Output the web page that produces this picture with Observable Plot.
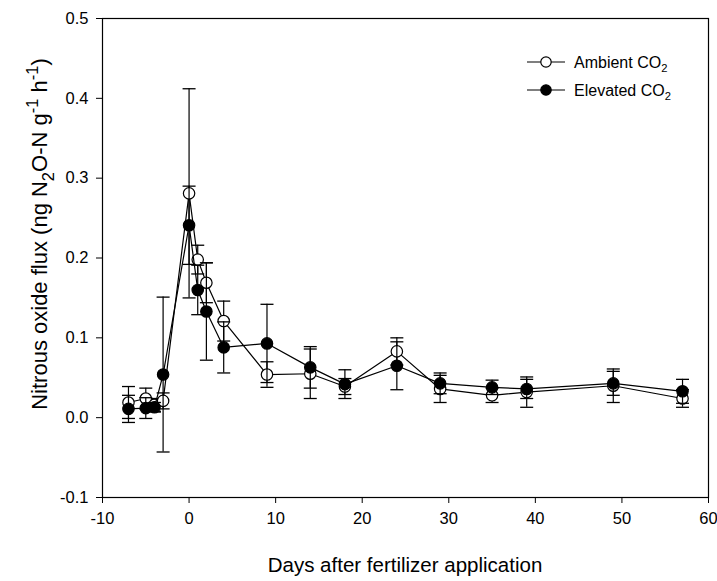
<!DOCTYPE html>
<html>
<head>
<meta charset="utf-8">
<script src="https://cdn.jsdelivr.net/npm/d3@7"></script>
<script src="https://cdn.jsdelivr.net/npm/@observablehq/plot@0.6"></script>
<style>
  html, body { margin: 0; padding: 0; background: #fff; }
  svg { display: block; }
</style>
</head>
<body>
<div id="chart"></div>
<script>
// ---- data ----
const days = [-7, -5, -4, -3, 0, 1, 2, 4, 9, 14, 18, 24, 29, 35, 39, 49, 57];
const ambientMean = [0.019, 0.024, 0.016, 0.021, 0.281, 0.198, 0.169, 0.121, 0.054, 0.055, 0.039, 0.083, 0.036, 0.028, 0.032, 0.040, 0.024];
const ambientErr  = [0.020, 0.013, 0.008, 0.010, 0.131, 0.018, 0.025, 0.025, 0.016, 0.031, 0.010, 0.017, 0.017, 0.009, 0.019, 0.021, 0.011];
const elevatedMean = [0.011, 0.012, 0.013, 0.054, 0.241, 0.160, 0.133, 0.088, 0.093, 0.063, 0.042, 0.065, 0.043, 0.038, 0.036, 0.043, 0.033];
const elevatedErr  = [0.017, 0.013, 0.006, 0.097, 0.049, 0.031, 0.061, 0.032, 0.049, 0.026, 0.018, 0.030, 0.013, 0.009, 0.012, 0.015, 0.015];
const seriesNames = ["Ambient CO", "Elevated CO"];
const xTicks = [-10, 0, 10, 20, 30, 40, 50, 60];
const yTicks = [-0.1, 0.0, 0.1, 0.2, 0.3, 0.4, 0.5];
const xTitle = "Days after fertilizer application";

// ---- build table ----
const seriesData = [
  {name: seriesNames[0], mean: ambientMean, err: ambientErr, fill: "white"},
  {name: seriesNames[1], mean: elevatedMean, err: elevatedErr, fill: "black"}
];

const capSymbol = {
  draw(ctx) { const w = 6.5; ctx.moveTo(-w, 0); ctx.lineTo(w, 0); }
};

const font = "'Liberation Sans', Arial, Helvetica, sans-serif";

const marks = [Plot.frame({stroke: "black", strokeWidth: 1.2})];
for (const s of seriesData) {
  const rows = days.map((d, i) => ({day: d, v: s.mean[i], lo: s.mean[i] - s.err[i], hi: s.mean[i] + s.err[i]}));
  marks.push(Plot.line(rows, {x: "day", y: "v", stroke: "black", strokeWidth: 1.2}));
  marks.push(Plot.ruleX(rows, {x: "day", y1: "lo", y2: "hi", stroke: "black", strokeWidth: 1.2}));
  marks.push(Plot.dot(rows, {x: "day", y: "lo", symbol: capSymbol, stroke: "black", strokeWidth: 1.3, fill: "none"}));
  marks.push(Plot.dot(rows, {x: "day", y: "hi", symbol: capSymbol, stroke: "black", strokeWidth: 1.3, fill: "none"}));
  marks.push(Plot.dot(rows, {x: "day", y: "v", r: 5.7, fill: s.fill, stroke: "black", strokeWidth: 1.2}));
}
marks.push(Plot.axisX({ticks: xTicks, tickSize: 6, tickPadding: 9, tickFormat: d => String(d), label: null, fontSize: 16.5}));
marks.push(Plot.axisY({ticks: yTicks, tickSize: 6, tickPadding: 8, tickFormat: d => d.toFixed(1), label: null, fontSize: 16.5}));

const chart = Plot.plot({
  width: 717,
  height: 581,
  marginLeft: 102,
  marginRight: 9,
  marginTop: 18,
  marginBottom: 84,
  x: {domain: [-10, 60]},
  y: {domain: [-0.1, 0.5]},
  style: {fontFamily: font, fontSize: "16px", color: "black", background: "white"},
  marks
});
document.getElementById("chart").appendChild(chart);

// ---- titles and legend with sub/superscripts ----
const svg = d3.select(chart);

function richText(sel, parts, baseSize, small) {
  let shift = 0;
  for (const [t, kind] of parts) {
    let target = 0, size = baseSize;
    if (kind === "sub") { target = 0.3 * baseSize; size = baseSize * small; }
    if (kind === "sup") { target = -0.4 * baseSize; size = baseSize * small; }
    sel.append("tspan").attr("dy", target - shift).attr("font-size", size).text(t);
    shift = target;
  }
}

svg.append("text")
  .attr("x", 405).attr("y", 572)
  .attr("text-anchor", "middle")
  .attr("font-family", font).attr("font-size", 20.5).attr("fill", "black")
  .text(xTitle);

const ySize = 22;
const yTitle = svg.append("text")
  .attr("text-anchor", "start")
  .attr("font-family", font).attr("font-size", ySize).attr("fill", "black");
richText(yTitle, [["Nitrous oxide flux (ng N", "n"], ["2", "sub"], ["O-N g", "n"], ["-1", "sup"], [" h", "n"], ["-1", "sup"], [")", "n"]], ySize, 0.75);
const yLen = yTitle.node().getComputedTextLength();
yTitle.attr("transform", `translate(47,${234 + yLen / 2}) rotate(-90)`);

const legendRows = [
  {name: seriesNames[0], fill: "white", y: 62},
  {name: seriesNames[1], fill: "black", y: 90}
];
const lg = svg.append("g");
for (const r of legendRows) {
  lg.append("line").attr("x1", 527).attr("x2", 565).attr("y1", r.y).attr("y2", r.y)
    .attr("stroke", "black").attr("stroke-width", 1.2);
  lg.append("circle").attr("cx", 546).attr("cy", r.y).attr("r", 5.2)
    .attr("fill", r.fill).attr("stroke", "black").attr("stroke-width", 1.2);
  const t = lg.append("text").attr("x", 574).attr("y", r.y + 5.5)
    .attr("text-anchor", "start")
    .attr("font-family", font).attr("font-size", 16).attr("fill", "black");
  richText(t, [[r.name, "n"], ["2", "sub"]], 16, 0.7);
}
</script>
</body>
</html>
